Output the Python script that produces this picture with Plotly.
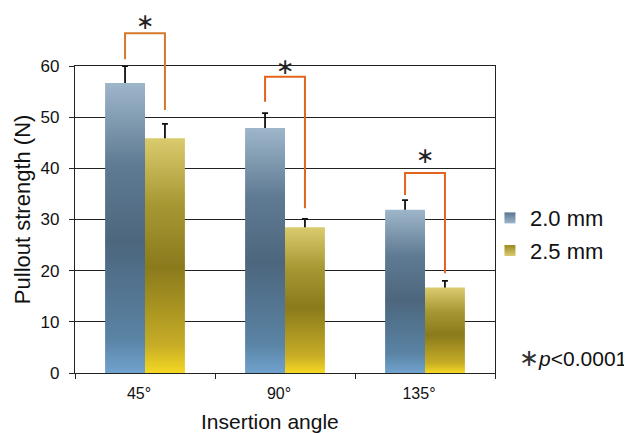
import plotly.graph_objects as go

# ---- data ----
angles = ["45°", "90°", "135°"]
series_names = ["2.0 mm", "2.5 mm"]
mean_20 = [56.7, 47.9, 31.9]
sd_20 = [3.3, 2.9, 1.9]
mean_25 = [45.9, 28.5, 16.7]
sd_25 = [2.8, 1.6, 1.3]
# significance brackets (N)
bracket_top = [66.4, 57.9, 39.1]
bracket_left_bottom = [61.3, 53.0, 34.8]
bracket_right_bottom = [51.4, 32.2, 19.5]
sig_y = [68.6, 59.9, 42.5]
sig_label = "∗"
y_ticks = [0, 10, 20, 30, 40, 50, 60]
y_max = 60

# ---- style ----
BAR_W = 0.285
blue_scale = [[0, "#70A2CE"], [0.12, "#5A83A4"], [0.45, "#4C667D"],
              [0.72, "#5F7B93"], [1, "#9EB6CA"]]
gold_scale = [[0, "#F5D823"], [0.12, "#C6AC26"], [0.45, "#8A7A1C"],
              [0.72, "#A89834"], [1, "#DACB6E"]]
bracket_colors = ["#D57A2C", "#E2641E", "#E2641E"]

fig = go.Figure()

series = [(mean_20, sd_20, blue_scale, -1, "#587590"),
          (mean_25, sd_25, gold_scale, 1, "#9C8A22")]

# error bars first (lower half hidden beneath the bars)
for (means, sds, cscale, side, mid), name in zip(series, series_names):
    xs = [i + side * BAR_W / 2 for i in range(len(means))]
    fig.add_trace(go.Scatter(
        x=xs, y=means, mode="markers", marker=dict(size=1, opacity=0),
        error_y=dict(type="data", array=sds, color="#111",
                     thickness=1.8, width=3),
        showlegend=False, hoverinfo="skip"))

for (means, sds, cscale, side, mid), name in zip(series, series_names):
    for i, v in enumerate(means):
        x0 = i if side > 0 else i - BAR_W
        x1 = i + BAR_W if side > 0 else i
        fig.add_trace(go.Scatter(
            x=[x0, x1, x1, x0, x0], y=[0, 0, v, v, 0],
            mode="lines", fill="toself", line=dict(width=0),
            fillgradient=dict(type="vertical", colorscale=cscale),
            showlegend=False, hoverinfo="skip"))

# legend-only entries
for (means, sds, cscale, side, mid), name in zip(series, series_names):
    fig.add_trace(go.Scatter(
        x=[None], y=[None], mode="markers", name=name, legendgroup=name,
        marker=dict(symbol="square", size=11, color=mid,
                    gradient=dict(type="vertical", color=cscale[-1][1]))))

# significance brackets
for i in range(len(angles)):
    xl = i - BAR_W / 2
    xr = i + BAR_W / 2
    path = (f"M{xl},{bracket_left_bottom[i] / y_max} L{xl},{bracket_top[i] / y_max} "
            f"L{xr},{bracket_top[i] / y_max} L{xr},{bracket_right_bottom[i] / y_max}")
    fig.add_shape(type="path", path=path, xref="x", yref="paper",
                  line=dict(color=bracket_colors[i], width=2))
    fig.add_annotation(x=i, y=sig_y[i] / y_max, xref="x", yref="paper",
                       text=sig_label, showarrow=False, yanchor="middle",
                       font=dict(size=22, color="#222",
                                 family="DejaVu Sans"))

fig.add_annotation(x=1.319, y=0.048, xref="paper", yref="paper",
                   xanchor="right", yanchor="middle", showarrow=False,
                   text="<span style='font-size:24px;color:#333;font-family:DejaVu Sans'>∗</span><i>p</i><0.0001",
                   font=dict(size=21, color="#111", family="Liberation Sans"))

fig.add_annotation(x=0.465, y=-0.157, xref="paper", yref="paper",
                   xanchor="center", yanchor="middle", showarrow=False,
                   text="Insertion angle",
                   font=dict(size=21, color="#111", family="Liberation Sans"))
fig.add_annotation(x=-0.126, y=0.534, xref="paper", yref="paper",
                   xanchor="center", yanchor="middle", showarrow=False,
                   textangle=-90, text="Pullout strength (N)",
                   font=dict(size=22, color="#111", family="Liberation Sans"))

# body has an 8px default margin in the page; margins compensate
fig.update_layout(
    width=632, height=433,
    margin=dict(l=67, r=145, t=58, b=68),
    paper_bgcolor="white", plot_bgcolor="white",
    font=dict(family="Liberation Sans", color="#111"),
    legend=dict(x=0.988, y=0.573, xanchor="left", yanchor="top",
                font=dict(size=22), itemwidth=30, tracegroupgap=1,
                bgcolor="rgba(0,0,0,0)"),
    xaxis=dict(range=[-0.5, 2.5], tickmode="array", tickvals=[0, 1, 2],
               ticktext=angles, ticks="", showgrid=False, zeroline=False,
               showline=True, linecolor="#222", linewidth=1.4, mirror=True,
               tickfont=dict(size=16), ticklabelstandoff=6,
               ticklabelshift=-6,
               minor=dict(tickmode="array", tickvals=[-0.5, 0.5, 1.5, 2.5],
                          ticks="outside", ticklen=5, tickcolor="#222",
                          tickwidth=1.4, showgrid=False)),
    yaxis=dict(range=[0, y_max], tickmode="array", tickvals=y_ticks,
               ticks="outside", ticklen=5, tickcolor="#222", tickwidth=1.4,
               showgrid=True, gridcolor="#222", gridwidth=1.4,
               zeroline=False, showline=True, linecolor="#222",
               linewidth=1.4, mirror=True, tickfont=dict(size=17),
               ticklabelstandoff=6),
)

fig.write_html("out.html")
